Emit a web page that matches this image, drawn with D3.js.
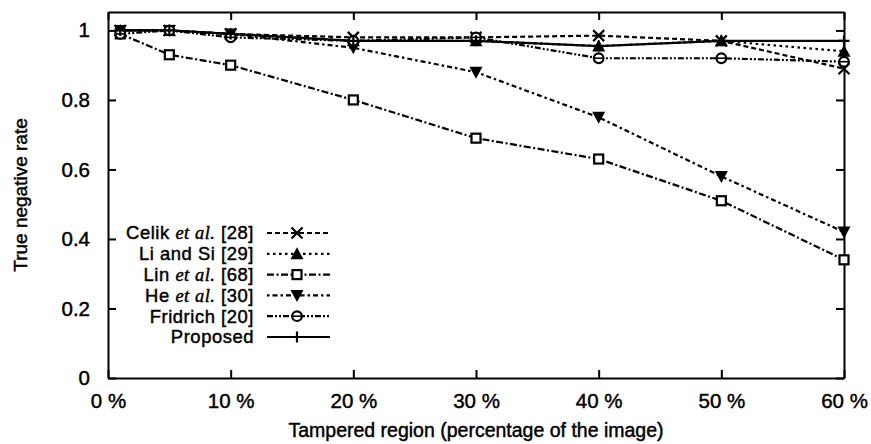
<!DOCTYPE html>
<html>
<head>
<meta charset="utf-8">
<script src="https://cdn.jsdelivr.net/npm/d3@7"></script>
<style>
  body { margin: 0; background: #fff; }
  text { font-family: "Liberation Sans", Arial, sans-serif; fill: #000; stroke: #000; stroke-width: 0.45px; }
</style>
</head>
<body>
<svg width="871" height="444"></svg>
<script>
// tampered region sizes (%)
const regions = [1, 5, 10, 20, 30, 40, 50, 60]

const celik = [1.0, 1.0, 0.99, 0.98, 0.98, 0.985, 0.97, 0.89]
const liSi = [1.0, 1.0, 0.99, 0.97, 0.97, 0.955, 0.97, 0.94]
const lin = [0.99, 0.93, 0.90, 0.80, 0.69, 0.63, 0.51, 0.34]
const he = [1.0, 1.0, 0.99, 0.95, 0.88, 0.75, 0.58, 0.42]
const fridrich = [0.99, 1.0, 0.98, 0.97, 0.98, 0.92, 0.92, 0.91]
const proposed = [1.0, 1.0, 0.99, 0.97, 0.97, 0.955, 0.97, 0.97]

const xTicks = [0, 10, 20, 30, 40, 50, 60]
const yTicks = [0, 0.2, 0.4, 0.6, 0.8, 1]

const seriesNames = [
  ['Celik ', 'et al.', ' [28]'],
  ['Li and Si [29]'],
  ['Lin ', 'et al.', ' [68]'],
  ['He ', 'et al.', ' [30]'],
  ['Fridrich [20]'],
  ['Proposed']
]

function main() {
  let svg = d3.select('svg')

  let xScale = d3.scaleLinear().domain([0, 60]).range([108, 844]),
    yScale = d3.scaleLinear().domain([0, 1.053]).range([378, 12])

  // series styles: dash pattern + marker kind
  let series = [
    { values: celik, dash: '5,3', marker: 'x' },
    { values: liSi, dash: '2.5,3.5', marker: 'tri' },
    { values: lin, dash: '7,2.5,2,2.5', marker: 'square' },
    { values: he, dash: '2.5,3,5,3', marker: 'dtri' },
    { values: fridrich, dash: '6,2,2,2,2,2', marker: 'circle' },
    { values: proposed, dash: null, marker: 'plus' }
  ]

  function drawMarker(g, kind, x, y) {
    let s = 5.5
    if (kind === 'x') {
      g.append('path')
        .attr('d', `M${x - s},${y - s}L${x + s},${y + s}M${x - s},${y + s}L${x + s},${y - s}`)
        .attr('stroke', '#000').attr('stroke-width', 2.2)
    } else if (kind === 'plus') {
      g.append('path')
        .attr('d', `M${x - s},${y}L${x + s},${y}M${x},${y - s}L${x},${y + s}`)
        .attr('stroke', '#000').attr('stroke-width', 2.2)
    } else if (kind === 'tri') {
      g.append('path')
        .attr('d', `M${x},${y - s - 1}L${x + s + 1},${y + s}L${x - s - 1},${y + s}Z`)
        .attr('fill', '#000')
    } else if (kind === 'dtri') {
      g.append('path')
        .attr('d', `M${x},${y + s + 1}L${x + s + 1},${y - s}L${x - s - 1},${y - s}Z`)
        .attr('fill', '#000')
    } else if (kind === 'square') {
      g.append('rect')
        .attr('x', x - 4.5).attr('y', y - 4.5)
        .attr('width', 9).attr('height', 9)
        .attr('fill', '#fff').attr('stroke', '#000').attr('stroke-width', 2.2)
    } else if (kind === 'circle') {
      g.append('circle')
        .attr('cx', x).attr('cy', y).attr('r', 4.8)
        .attr('fill', '#fff').attr('stroke', '#000').attr('stroke-width', 2.2)
      g.append('line')
        .attr('x1', x - 4).attr('x2', x + 4).attr('y1', y).attr('y2', y)
        .attr('stroke', '#000').attr('stroke-width', 1.6)
    }
  }

  let x0 = xScale.range()[0], x1 = xScale.range()[1]
  let y0 = yScale.range()[0], y1 = yScale.range()[1]

  // Axes with mirrored ticks (gnuplot style, ticks inside)
  let tickLen = 8
  let axes = svg.append('g')

  axes.append('g')
    .attr('transform', 'translate(0,' + y0 + ')')
    .call(d3.axisBottom(xScale).tickValues(xTicks).tickSizeInner(-tickLen).tickSizeOuter(0)
      .tickPadding(15).tickFormat(d => d + ' %'))
  axes.append('g')
    .attr('transform', 'translate(0,' + y1 + ')')
    .call(d3.axisTop(xScale).tickValues(xTicks).tickSizeInner(-tickLen).tickSizeOuter(0).tickFormat(''))
  axes.append('g')
    .attr('transform', 'translate(' + x0 + ',0)')
    .call(d3.axisLeft(yScale).tickValues(yTicks).tickSizeInner(-tickLen).tickSizeOuter(0)
      .tickPadding(18).tickFormat(d3.format('')))
  axes.append('g')
    .attr('transform', 'translate(' + x1 + ',0)')
    .call(d3.axisRight(yScale).tickValues(yTicks).tickSizeInner(-tickLen).tickSizeOuter(0).tickFormat(''))

  axes.selectAll('.domain').attr('stroke', '#000').attr('stroke-width', 2)
  axes.selectAll('.tick line').attr('stroke', '#000').attr('stroke-width', 2)
  axes.selectAll('.tick text')
    .attr('font-family', '"Liberation Sans", Arial, sans-serif')
    .attr('font-size', 20.5)
    .attr('fill', '#000')

  // Axis titles
  svg.append('text')
    .attr('x', (x0 + x1) / 2)
    .attr('y', 437)
    .attr('text-anchor', 'middle')
    .attr('font-size', 19.5)
    .text('Tampered region (percentage of the image)')

  svg.append('text')
    .attr('transform', 'translate(27,' + (y0 + y1) / 2 + ') rotate(-90)')
    .attr('text-anchor', 'middle')
    .attr('font-size', 19)
    .text('True negative rate')

  // Series lines and markers
  let line = d3.line()
    .x((d, i) => xScale(regions[i]))
    .y(d => yScale(d))

  series.forEach(s => {
    svg.append('path')
      .datum(s.values)
      .attr('d', line)
      .attr('fill', 'none')
      .attr('stroke', '#000')
      .attr('stroke-width', 2.2)
      .attr('stroke-dasharray', s.dash)
  })
  series.forEach(s => {
    let g = svg.append('g')
    s.values.forEach((v, i) => drawMarker(g, s.marker, xScale(regions[i]), yScale(v)))
  })

  // Legend
  let legend = svg.append('g')
  series.forEach((s, i) => {
    let ly = 233 + i * 20.8
    let t = legend.append('text')
      .attr('x', 254)
      .attr('y', ly)
      .attr('dy', '0.35em')
      .attr('text-anchor', 'end')
      .attr('font-size', 18.4)
      .attr('letter-spacing', 0.55)
    seriesNames[i].forEach(part => {
      let ts = t.append('tspan').text(part)
      if (part === 'et al.') {
        ts.attr('font-family', '"Liberation Serif", serif').attr('font-style', 'italic')
      }
    })
    legend.append('line')
      .attr('x1', 267).attr('x2', 330)
      .attr('y1', ly).attr('y2', ly)
      .attr('stroke', '#000')
      .attr('stroke-width', 2.2)
      .attr('stroke-dasharray', s.dash)
    drawMarker(legend, s.marker, 297, ly)
  })
}

main()
</script>
</body>
</html>
